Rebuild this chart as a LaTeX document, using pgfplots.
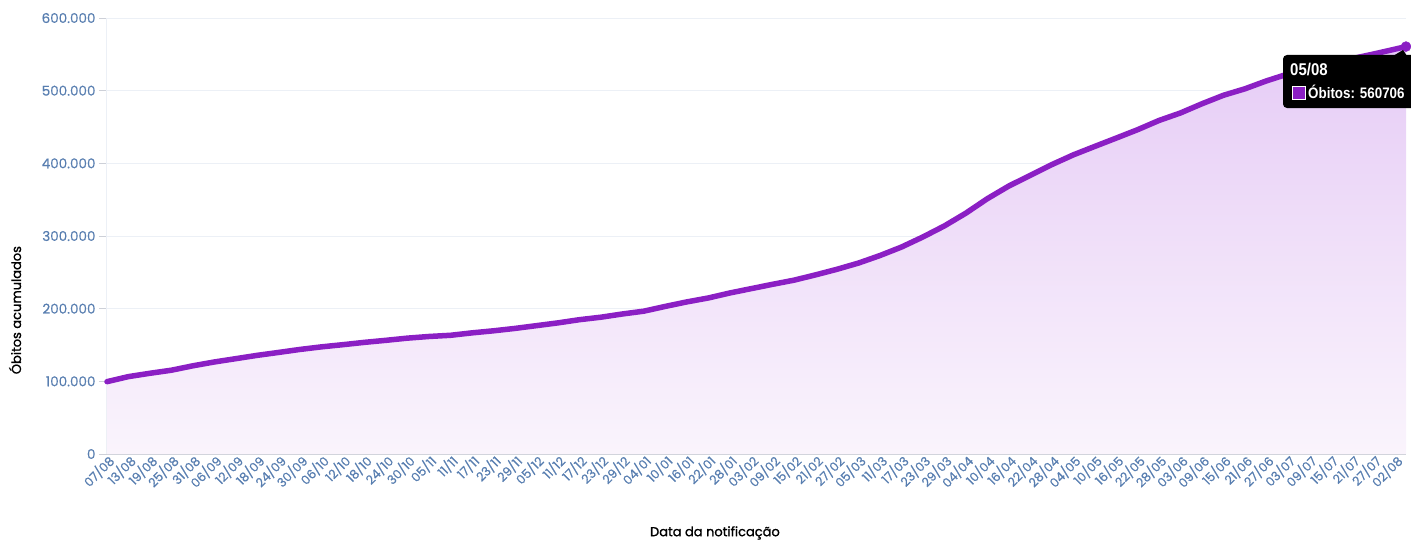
\documentclass[border=0pt]{standalone}
\usepackage{pgfplots}
\pgfplotsset{compat=1.18}
\usepackage{pgfplotstable}
\usepackage{fontspec}
\setmainfont{Poppins}
\newfontfamily\tickfont{Poppins}[FakeBold=0.5]
\newfontfamily\labfont{Poppins}[FakeBold=1.2]
\newfontfamily\tipfont{Liberation Sans}[FakeStretch=0.88]
\definecolor{lineP}{RGB}{139,31,196}
\definecolor{tickc}{RGB}{88,126,176}
\definecolor{gridc}{RGB}{236,240,246}
\definecolor{axc}{RGB}{205,208,216}
\definecolor{fillTop}{RGB}{230,204,246}
\definecolor{fillBot}{RGB}{250,244,252}
\pgfplotstableread{
d v
0 99572
6 106523
12 111100
18 115309
24 121381
30 126650
36 131210
42 135793
48 139808
54 143952
60 147494
66 150488
72 153675
78 156471
84 159477
90 161736
96 163368
102 166699
108 169541
114 172833
120 176628
126 180437
132 184827
138 188259
144 192681
150 196561
156 203100
162 209296
168 214681
174 221547
180 227563
186 233520
192 239245
198 246504
204 254221
210 262770
216 273124
222 284775
228 298676
234 313866
240 331433
246 351334
252 368749
258 383502
264 398185
270 411588
276 423229
282 434715
288 446309
294 459045
300 469388
306 482019
312 493693
318 502586
324 513474
330 522968
336 530179
342 537394
348 544180
354 550502
360 557223
363 560706
}\deaths
\begin{document}
\begin{tikzpicture}[x=1pt,y=1pt]
\begin{axis}[
  at={(0,0)}, anchor=south west,
  scale only axis, width=1299pt, height=436pt,
  xmin=0, xmax=363, ymin=0, ymax=600000,
  axis x line*=bottom, axis y line*=left,
  x axis line style={-, draw=axc, line width=1.2pt},
  y axis line style={-, draw=gridc, line width=1pt},
  xtick={0,6,...,360},
  xticklabels={07/08,13/08,19/08,25/08,31/08,06/09,12/09,18/09,24/09,30/09,06/10,12/10,18/10,24/10,30/10,05/11,11/11,17/11,23/11,29/11,05/12,11/12,17/12,23/12,29/12,04/01,10/01,16/01,22/01,28/01,03/02,09/02,15/02,21/02,27/02,05/03,11/03,17/03,23/03,29/03,04/04,10/04,16/04,22/04,28/04,04/05,10/05,16/05,22/05,28/05,03/06,09/06,15/06,21/06,27/06,03/07,09/07,15/07,21/07,27/07,02/08},
  x tick style={draw=none},
  xticklabel style={rotate=45, anchor=east, font=\tickfont\fontsize{12.5}{12.5}\selectfont, text=tickc, xshift=7pt, yshift=-1pt, inner sep=1pt},
  ytick={0,100000,...,600000},
  scaled y ticks=false,
  yticklabel style={/pgf/number format/.cd, fixed, 1000 sep={.}, assume math mode=true, /tikz/.cd, font=\tickfont\fontsize{13.5}{13.5}\selectfont, text=tickc},
  y tick style={draw=axc, line width=1pt},
  tick align=outside, major tick length=8pt,
  ymajorgrids, grid style={draw=gridc, line width=1pt},
  xlabel={Data da notificação},
  ylabel={Óbitos acumulados},
  xlabel style={font=\labfont\fontsize{13}{13}\selectfont, at={(axis description cs:0.468,-0.181)}, anchor=center},
  ylabel style={font=\labfont\fontsize{13}{13}\selectfont, at={(axis description cs:-0.0708,0.33)}, anchor=center},
  clip=false,
]
\addplot[draw=none, top color=fillTop, bottom color=fillBot] table[x=d,y=v]{\deaths} \closedcycle;
\addplot[lineP, line width=5.5pt, line join=round, line cap=round] table[x=d,y=v]{\deaths};
\addplot[only marks, mark=*, mark size=5pt, lineP] coordinates {(363,560706)};
\end{axis}
% tooltip
\fill[black, rounded corners=4pt] (1176,346) rectangle (1330,399);
\fill[black] (1286,398) -- (1300,398) -- (1296,404) -- cycle;
\node[anchor=base west, inner sep=0pt, text=white, font=\tipfont\bfseries\fontsize{17}{17}\selectfont] at (1183,379) {05/08};
\filldraw[fill=lineP, draw=white, line width=1pt] (1185,355) rectangle (1198,368);
\node[anchor=base west, inner sep=0pt, text=white, font=\tipfont\bfseries\fontsize{15.2}{15.2}\selectfont] at (1201,356) {Óbitos: 560706};
\pgfresetboundingbox
\path[use as bounding box] (-107,-88) rectangle (1304,454);
\end{tikzpicture}
\end{document}
